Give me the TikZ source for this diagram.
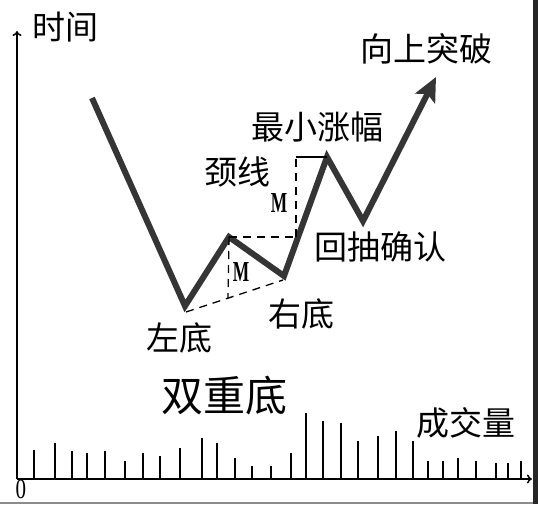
\documentclass[tikz,border=0pt]{standalone}
\usepackage{fontspec}
\usepackage{tikz}
\usetikzlibrary{arrows.meta,positioning}
\newfontfamily\cjk{Noto Sans CJK SC}
\newfontfamily\latin{Liberation Serif}
\definecolor{kurs}{HTML}{353535}
\tikzset{
    %Define standard arrow tip
    >={To[length=5pt,width=9pt]},
    %Define style for texts
    merk/.style={
           inner sep=0pt,
           font=\cjk\fontsize{33}{33}\selectfont},
    stormerk/.style={
           inner sep=0pt,
           font=\cjk\fontsize{42}{42}\selectfont},
    hoyde/.style={
           inner sep=0pt,
           font=\latin\fontsize{29}{29}\selectfont\bfseries},
    % Define line styles
    akse/.style={
           line width=1.5pt,
           draw=black},
    kurve/.style={
           line width=6pt,
           draw=kurs,
           -{Stealth[length=24pt,width=22pt,inset=5pt]}},
    hals/.style={
           line width=1.3pt,
           dash pattern=on 8pt off 6pt},
    volum/.style={
           line width=1.6pt}
}
\begin{document}
\begin{tikzpicture}[x=1pt,y=-1pt]
\useasboundingbox (0,0) rectangle (538,504);
\fill[black!85] (533,0) rectangle (538,504);
\draw[black!45, line width=1.5pt] (0,503) -- (533,503);
% axes
\coordinate (origo) at (17,479);
\coordinate (ytop) at (17,31);
\coordinate (xend) at (532,479);
\draw[akse,->] (origo) -- (ytop);
\draw[akse,->] (origo) -- (xend);
\node[inner sep=0pt, font=\latin\fontsize{28}{28}\selectfont] (null) at (21,489) {\scalebox{0.75}[1]{0}};
% volume
\foreach \x/\h in {34/450,55/443,72/451,87/453,105/451,125/461,143/453,160/456,
    180/448,202/438,217/443,235/458,252/466,271/466,291/453,306/413,323/421,
    341/423,358/441,378/436,396/431,413/441,428/461,443/461,458/458,476/461,
    496/463,508/463,521/461}
  \draw[volum] (\x,479) -- (\x,\h);
% price path
\coordinate (start) at (92,98);
\coordinate (lbot) at (185,306);
\coordinate (top1) at (229,237);
\coordinate (rbot) at (284,276);
\coordinate (top2) at (327,157);
\coordinate (back) at (363,221);
\coordinate (aim) at (436,77);
\draw[kurve] (start) -- (lbot) -- (top1) -- (rbot) -- (top2) -- (back) -- (aim);
% neckline and heights
\coordinate (neck) at (296,237);
\coordinate (rise) at (296,157);
\coordinate (foot) at (228,298);
\coordinate (base1) at (186,312);
\coordinate (base2) at (283,280);
\draw[hals] (top1) -- (neck);
\draw[hals] (neck) -- (rise);
\draw[line width=1.3pt] (rise) -- (top2);
\draw[hals] (top1) -- (foot);
\draw[hals] (base1) -- (base2);
\node[hoyde] (m1) at (241,272) {\scalebox{0.6}[1]{M}};
\node[hoyde] (m2) at (279,203) {\scalebox{0.6}[1]{M}};
% texts
\node[merk] (tid) at (65,27) {时间};
\node[merk] (brudd) at (426,49) {向上突破};
\node[merk] (stige) at (317,127) {最小涨幅};
\node[merk] (halslinje) at (237,172) {颈线};
\node[merk] (retest) at (380,247) {回抽确认};
\node[merk] (hbunn) at (301,314) {右底};
\node[merk] (vbunn) at (179,338) {左底};
\node[stormerk] (dobbel) at (224,396) {双重底};
\node[merk] (mengde) at (466,423) {成交量};
\end{tikzpicture}
\end{document}
